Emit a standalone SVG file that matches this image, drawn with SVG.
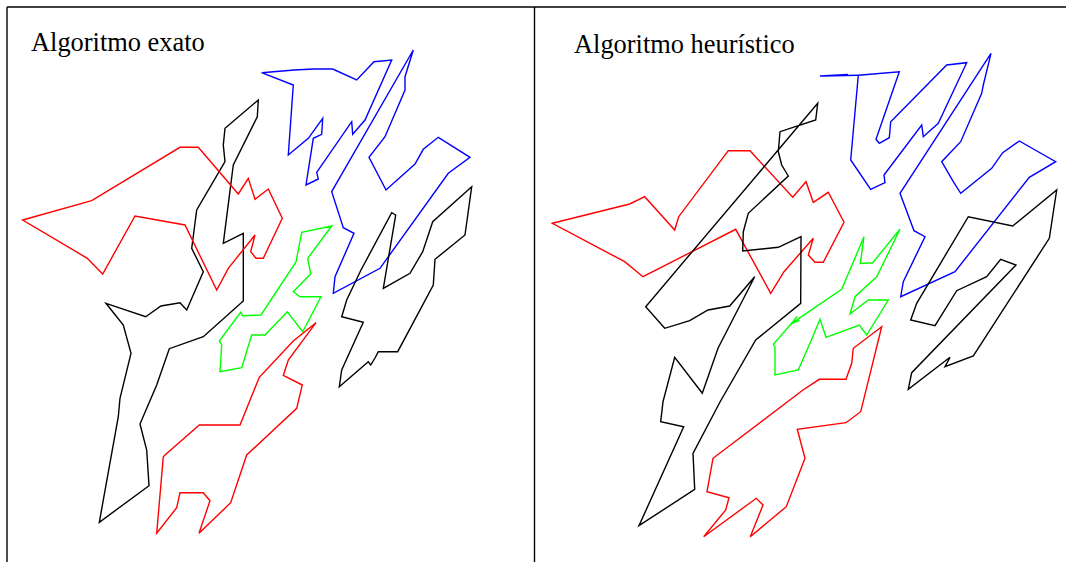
<svg xmlns="http://www.w3.org/2000/svg" width="1066" height="562" viewBox="0 0 1066 562">
<style>
.frame{stroke:#000;stroke-width:1.4;fill:none}
.t{font-family:"Liberation Serif","Times New Roman",serif;font-size:26.4px;fill:#000}
.p{fill:none;stroke-width:1.4;stroke-linejoin:miter;stroke-linecap:butt}
.k{stroke:#000}.r{stroke:#ff0000}.b{stroke:#0000ff}.g{stroke:#00ff00}
</style>
<rect width="1066" height="562" fill="#fff"/>
<g id="frame">
<line class="frame" x1="7" y1="7" x2="1066" y2="7"/>
<line class="frame" x1="7" y1="7" x2="7" y2="562"/>
<line class="frame" x1="534.5" y1="7" x2="534.5" y2="562"/>
</g>
<g id="left-panel">
<text class="t" x="31" y="51">Algoritmo exato</text>
<polygon class="p k" points="258.3,100 257.3,116.7 233.3,165 223.3,243.3 243.3,233.3 243.3,301 203.3,336.7 169.3,348.7 156.7,385 140,424 146.7,450 149,485.7 99.3,522.3 118.3,416.7 120,398.3 131,353.3 123.3,325 106,303.3 145.7,316.7 161,306 180,302.7 186.7,310 203.3,271.7 191.7,248.3 196.7,210 225,161.7 223.3,145 225,128.3"/>
<polygon class="p r" points="22.7,220 91.7,200.7 180,147.3 198.3,147.3 238.3,194 248.3,178.3 255,199.3 268.3,189 282.3,218.3 263.3,258.3 256,258.3 250.7,251.7 255,235 228.3,268.3 216.7,290 185,225 135,216 102.7,274 87.3,258.3"/>
<polygon class="p b" points="261.7,72.7 294.3,70 313.3,69 332.7,69 356.7,80 374,61.7 391.7,60 365,120 352.7,134.3 351.7,121.7 316.7,172.3 318.3,179 306,185 313.3,138.3 321.7,134.3 322.7,118.3 308.3,138.3 288.3,155 293.3,85"/>
<polygon class="p b" points="413.3,50 405,76.7 405,90 385,136.7 369,157.3 386,190 415,164 423.3,149.3 438.3,137.3 470,157.3 448.3,173.3 380,268.3 333.3,293.3 335,276.7 354,233.3 343.3,227.7 331.7,191.7"/>
<polygon class="p g" points="331.7,226 301.7,232.3 296,262 261,315 242.7,315.7 240.7,312.3 219.3,341 221.7,345 220,371.7 241.7,367.7 251.7,335 265,335 287.3,311.7 302.7,331.7 321,296.7 300,296.7 293.3,291.7 310.7,274 307.7,258.3"/>
<polygon class="p r" points="316,322.7 288.3,360 283.3,375.5 302.3,385 296.7,408.3 246.7,455 230.7,502.7 199,533.3 210,500.7 203.3,492.7 180,492.7 176.7,507.7 156.7,533.3 163.3,456.7 165,455 199.3,425 240,425 259.3,377.3 293.3,341"/>
<polygon class="p k" points="471.7,186.7 465,235 435,259.3 433.3,285 397.7,351.7 378.3,351.7 375,358 370.7,365 368.3,361.7 339.3,386.7 341.7,370 363.3,322.3 341.7,316.7 346.7,300 361,270 391.7,212.7 395.7,215 383.3,288.3 410,273.3 422.7,251.7 432.7,221.7"/>
</g>
<g id="right-panel">
<text class="t" x="574" y="53">Algoritmo heurístico</text>
<polygon class="p r" points="552.3,223.3 629.7,204 644.7,196.7 674.7,230 678.7,216.7 728.3,150.7 750,150.7 792.7,197.3 806,181.7 813.3,202.3 828.3,192.3 844,222.3 823.3,262.3 815,262.3 808.3,255 813.3,238.3 784,271.7 770.7,293.3 735.7,229.3 643,276.7 624.7,261.7"/>
<polygon class="p k" points="817.7,103.3 815.7,120 780,131.7 778.3,151.7 781.7,165 788.3,176 748.3,213.3 743.3,231.7 742.7,251 778.3,247.3 801,236.7 800.7,303.3 755.7,340 720,402 693,453.3 694.7,489.3 639,525.7 683.7,426.7 660.7,421.7 663,401.7 674.7,357.3 702.3,393.3 718,348.3 754.7,276.7 729.7,306 708,310 689.7,320.7 664.7,328.3 645.7,306.7"/>
<polygon class="p b" points="858.3,75.3 899.3,71.7 876,139.3 879.3,143.3 889.3,137.7 890.7,121.7 946.7,65 966.7,62.7 938.3,123.3 923.3,136.7 921.7,125 884,175 885,182.7 870.7,189.3 850.7,160"/>
<polyline class="p b" points="858.3,75.3 820,76 848,74.5"/>
<polygon class="p b" points="991,53.3 983.3,85 981.7,93.3 960.7,141.7 941.7,161.7 953.3,181.7 960.7,193.3 991.7,168.3 1002.7,152.7 1019.3,141 1055.7,161.7 1029.3,177.3 955,271.7 900.7,296.7 903.3,281.7 925,236.7 914,230.7 900,193.3"/>
<polygon class="p g" points="864,236.7 860.3,263.5 872.7,262.7 900,229.3 876.7,276.7 855,296.7 850,314 868.3,300 888.3,300 866.7,335 859.3,325 826,337.3 820,319.3 811.7,339.3 798.3,370 775,375 775,347.3 773.3,344.3 791.7,323.3 841.7,289.3"/>
<polyline class="p g" points="797,316.5 791.7,323.3 799.5,320.5"/>
<polygon class="p r" points="881.7,326.7 853.3,348.3 851.7,363.3 846,379.3 819.3,379.3 803,390 713,458.3 707,491.7 729,497.7 725.7,510 703.7,536.7 756.3,498.3 763,505 750.3,536.7 786.3,506.7 805,458.3 797.3,429.3 846,422.7 860.7,411.7"/>
<polygon class="p k" points="1056.7,190 1049.3,238.3 973.3,356 945,366.7 950,357.3 908.3,389.3 911.7,372.7 1016,265 1000.7,259.3 986.7,276.7 956.7,290.7 935,325.7 910.7,320 916.7,303.3 968.3,216.7 1012.7,226"/>
</g>
</svg>
